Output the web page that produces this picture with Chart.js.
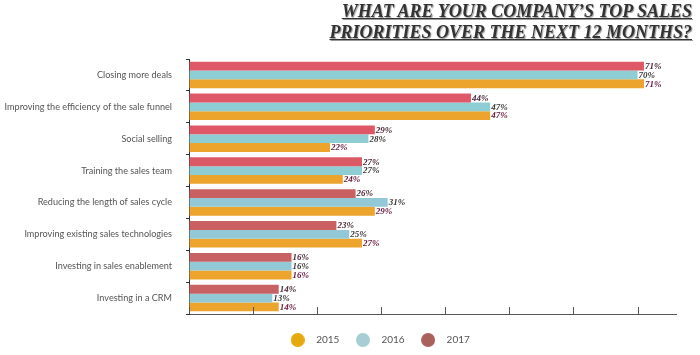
<!DOCTYPE html>
<html><head><meta charset="utf-8">
<script src="https://cdn.jsdelivr.net/npm/chart.js@4/dist/chart.umd.min.js"></script>
<style>
html,body{margin:0;padding:0;background:#fff;}
#wrap{position:relative;width:700px;height:355px;overflow:hidden;}
#title{position:absolute;right:8px;top:1px;text-align:right;font-family:"Liberation Serif",serif;font-weight:bold;font-style:italic;font-size:18px;line-height:21px;color:#333;text-decoration:underline;text-shadow:1px 1px 1px #999;white-space:nowrap;}
canvas{position:absolute;left:0;top:0;}
</style></head><body>
<div id="wrap"><canvas id="c" width="700" height="355"></canvas>
<div id="title">WHAT ARE YOUR COMPANY’S TOP SALES<br>PRIORITIES OVER THE NEXT 12 MONTHS?</div></div>
<script>
const categories = [
  "Closing more deals",
  "Improving the efficiency of the sale funnel",
  "Social selling",
  "Training the sales team",
  "Reducing the length of sales cycle",
  "Improving existing sales technologies",
  "Investing in sales enablement",
  "Investing in a CRM"
];
const seriesNames = ["2017", "2016", "2015"];
const values2017 = [71, 44, 29, 27, 26, 23, 16, 14];
const values2016 = [70, 47, 28, 27, 31, 25, 16, 13];
const values2015 = [71, 47, 22, 24, 29, 27, 16, 14];
const xTickValues = [0, 10, 20, 30, 40, 50, 60, 70];

const barColors = {
  "2017": ["#de5867", "#de5867", "#de5867", "#db5a66", "#c96163", "#cb6063", "#c86163", "#c86163"],
  "2016": ["#8ecdd4", "#8ecdd4", "#8ecdd4", "#8ecdd4", "#93c8d6", "#93c8d6", "#93c8d6", "#93c8d6"],
  "2015": "#eca42c"
};
const legendColors = {"2017": "#a8625b", "2016": "#a7ced3", "2015": "#e4a90c"};
const labelColors = {"2017": "#4a2a3a", "2016": "#3a3a3a", "2015": "#6a1a40"};

const seriesValues = [values2017, values2016, values2015];

function circleImage(color) {
  const cv = document.createElement('canvas');
  cv.width = 14; cv.height = 14;
  const g = cv.getContext('2d');
  g.fillStyle = color;
  g.beginPath();
  g.arc(7, 7, 7, 0, Math.PI * 2);
  g.fill();
  return cv;
}

const valueLabels = {
  id: 'valueLabels',
  afterDatasetsDraw(chart) {
    const ctx = chart.ctx;
    ctx.save();
    ctx.font = 'bold italic 9px "Liberation Serif"';
    ctx.textBaseline = 'middle';
    ctx.textAlign = 'left';
    chart.data.datasets.forEach((ds, di) => {
      const meta = chart.getDatasetMeta(di);
      ctx.fillStyle = labelColors[ds.label];
      meta.data.forEach((el, i) => {
        ctx.fillText(ds.data[i] + '%', el.x + 1, el.y + 0.5);
      });
    });
    ctx.restore();
  }
};

const upTicks = {
  id: 'upTicks',
  afterDraw(chart) {
    const sx = chart.scales.x;
    const ctx = chart.ctx;
    const b = chart.chartArea.bottom;
    ctx.save();
    ctx.strokeStyle = '#555';
    ctx.lineWidth = 1;
    xTickValues.forEach(v => {
      const px = Math.round(sx.getPixelForValue(v)) + 0.5;
      ctx.beginPath();
      ctx.moveTo(px, b);
      ctx.lineTo(px, b - 7);
      ctx.stroke();
    });
    ctx.restore();
  }
};

const legendShift = {
  id: 'legendShift',
  afterLayout(chart) {
    if (chart.legend) {
      chart.legend.left += 39;
      chart.legend.right += 39;
    }
  }
};

new Chart(document.getElementById('c'), {
  type: 'bar',
  data: {
    labels: categories,
    datasets: seriesNames.map((n, i) => ({
      label: n,
      data: seriesValues[i],
      backgroundColor: barColors[n],
      borderWidth: 0,
      categoryPercentage: 0.83,
      barPercentage: 1.0
    }))
  },
  options: {
    indexAxis: 'y',
    responsive: false,
    animation: false,
    layout: {padding: {top: 59, right: 24, left: 0, bottom: 0}},
    scales: {
      x: {
        min: 0, max: 76,
        afterBuildTicks(scale) { scale.ticks = xTickValues.map(v => ({value: v})); },
        ticks: {display: false},
        grid: {drawOnChartArea: false, drawTicks: false},
        border: {display: true, color: '#555', width: 1},
        afterFit(scale) { scale.height = 11; }
      },
      y: {
        grid: {drawOnChartArea: false, drawTicks: true, tickLength: 3, offset: true, color: '#333'},
        border: {display: true, color: '#333', width: 1},
        ticks: {font: {family: 'Lato', size: 9.1}, color: '#555', padding: 14},
        afterFit(scale) { scale.width = 189; }
      }
    },
    plugins: {
      tooltip: {enabled: false},
      legend: {
        position: 'bottom',
        reverse: true,
        maxHeight: 30,
        labels: {
          usePointStyle: true,
          pointStyleWidth: 27,
          boxHeight: 10,
          padding: 10,
          font: {family: 'Lato', size: 10},
          color: '#555',
          generateLabels(chart) {
            return chart.data.datasets.map((ds, i) => ({
              text: ds.label,
              fillStyle: legendColors[ds.label],
              strokeStyle: legendColors[ds.label],
              lineWidth: 0,
              pointStyle: circleImage(legendColors[ds.label]),
              datasetIndex: i,
              hidden: false,
              fontColor: '#555'
            }));
          }
        }
      }
    }
  },
  plugins: [valueLabels, upTicks, legendShift]
});
</script>
</body></html>
